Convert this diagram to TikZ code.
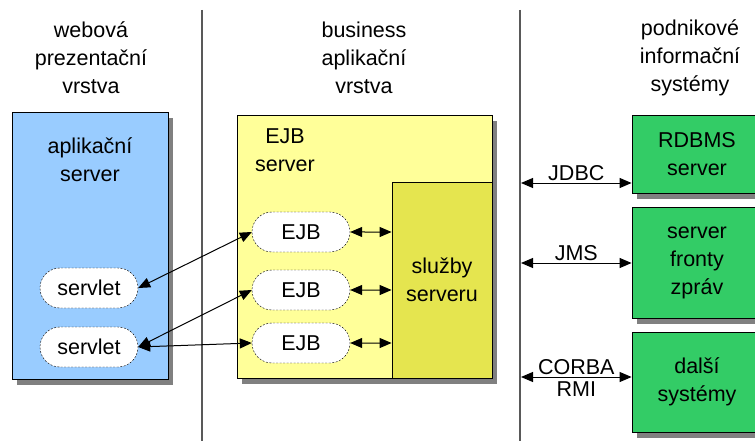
\documentclass[tikz,border=0pt]{standalone}
\usepackage{fontspec}
\setmainfont{Liberation Sans}
\usetikzlibrary{arrows.meta,shapes.misc,shadows}
\definecolor{webblue}{HTML}{99CCFF}
\definecolor{ejbyellow}{HTML}{FFFF99}
\definecolor{svcyellow}{HTML}{E5E54F}
\definecolor{eisgreen}{HTML}{33CC66}
\tikzset{
  txt/.style={align=center, inner sep=0pt},
  box/.style={draw, line width=0.8pt, inner sep=0pt,
    drop shadow={shadow xshift=5pt, shadow yshift=-6pt, fill=gray, opacity=1}},
  comp/.style={draw, dashed, dash pattern=on 2pt off 1.5pt, fill=white,
    rounded rectangle, minimum width=98pt, minimum height=40pt, inner sep=0pt},
  link/.style={line width=1pt, {Triangle[length=12pt,width=10pt]}-{Triangle[length=12pt,width=10pt]}},
  sep/.style={draw=black!65, line width=1.5pt}
}
\begin{document}
\begin{tikzpicture}[x=1pt,y=-1pt,font=\fontsize{21.5}{28}\selectfont]
\clip (0,0) rectangle (755,441);
\useasboundingbox (0,0) rectangle (755,441);
% columns
\draw[sep] (202,10) -- (202,441);
\draw[sep] (520,10) -- (520,441);
\node[txt] (hweb) at (91,58) {webová\\prezentační\\vrstva};
\node[txt] (hbiz) at (364,58) {business\\aplikační\\vrstva};
\node[txt] (heis) at (690,58) {podnikové\\informační\\systémy};
% web tier
\node[box, fill=webblue, minimum width=156pt, minimum height=267pt] (app) at (90,245.5) {};
\node[txt] (apptext) at (90,160) {aplikační\\server};
\node[comp] (s1) at (89,288) {servlet};
\node[comp] (s2) at (89,347) {servlet};
% business tier
\node[box, fill=ejbyellow, minimum width=255pt, minimum height=263pt] (ejbsrv) at (364.5,246.5) {};
\node[txt] (ejbtext) at (285,150) {EJB\\server};
\node[draw, line width=0.8pt, fill=svcyellow, minimum width=100pt, minimum height=196pt, txt] (svc) at (442,280) {služby\\serveru};
\node[comp] (e1) at (301,232) {EJB};
\node[comp] (e2) at (301,290) {EJB};
\node[comp] (e3) at (301,343) {EJB};
\draw[link] (e1) -- (e1 -| svc.west);
\draw[link] (e2) -- (e2 -| svc.west);
\draw[link] (e3) -- (e3 -| svc.west);
\draw[link] (s1.east) -- (e1.west);
\draw[link] (s2.east) -- (e2.west);
\draw[link] (s2.east) -- (e3.west);
% EIS tier
\node[box, fill=eisgreen, minimum width=130pt, minimum height=78pt, txt] (rdbms) at (697,154) {RDBMS\\server};
\node[box, fill=eisgreen, minimum width=130pt, minimum height=111pt, txt] (jms) at (697,262.5) {server\\fronty\\zpráv};
\node[box, fill=eisgreen, minimum width=130pt, minimum height=100pt, txt] (other) at (697,382) {další\\systémy};
\coordinate (pJdbc) at (521,183);
\coordinate (pJms) at (521,263);
\coordinate (pCorba) at (521,377);
\draw[link] (pJdbc) -- node[above=1pt, inner sep=1pt] {JDBC} (pJdbc -| rdbms.west);
\draw[link] (pJms) -- node[above=1pt, inner sep=1pt] {JMS} (pJms -| jms.west);
\draw[link] (pCorba) -- node[above=1pt, inner sep=1pt] {CORBA} node[below=3pt, inner sep=1pt] {RMI} (pCorba -| other.west);
\end{tikzpicture}
\end{document}
